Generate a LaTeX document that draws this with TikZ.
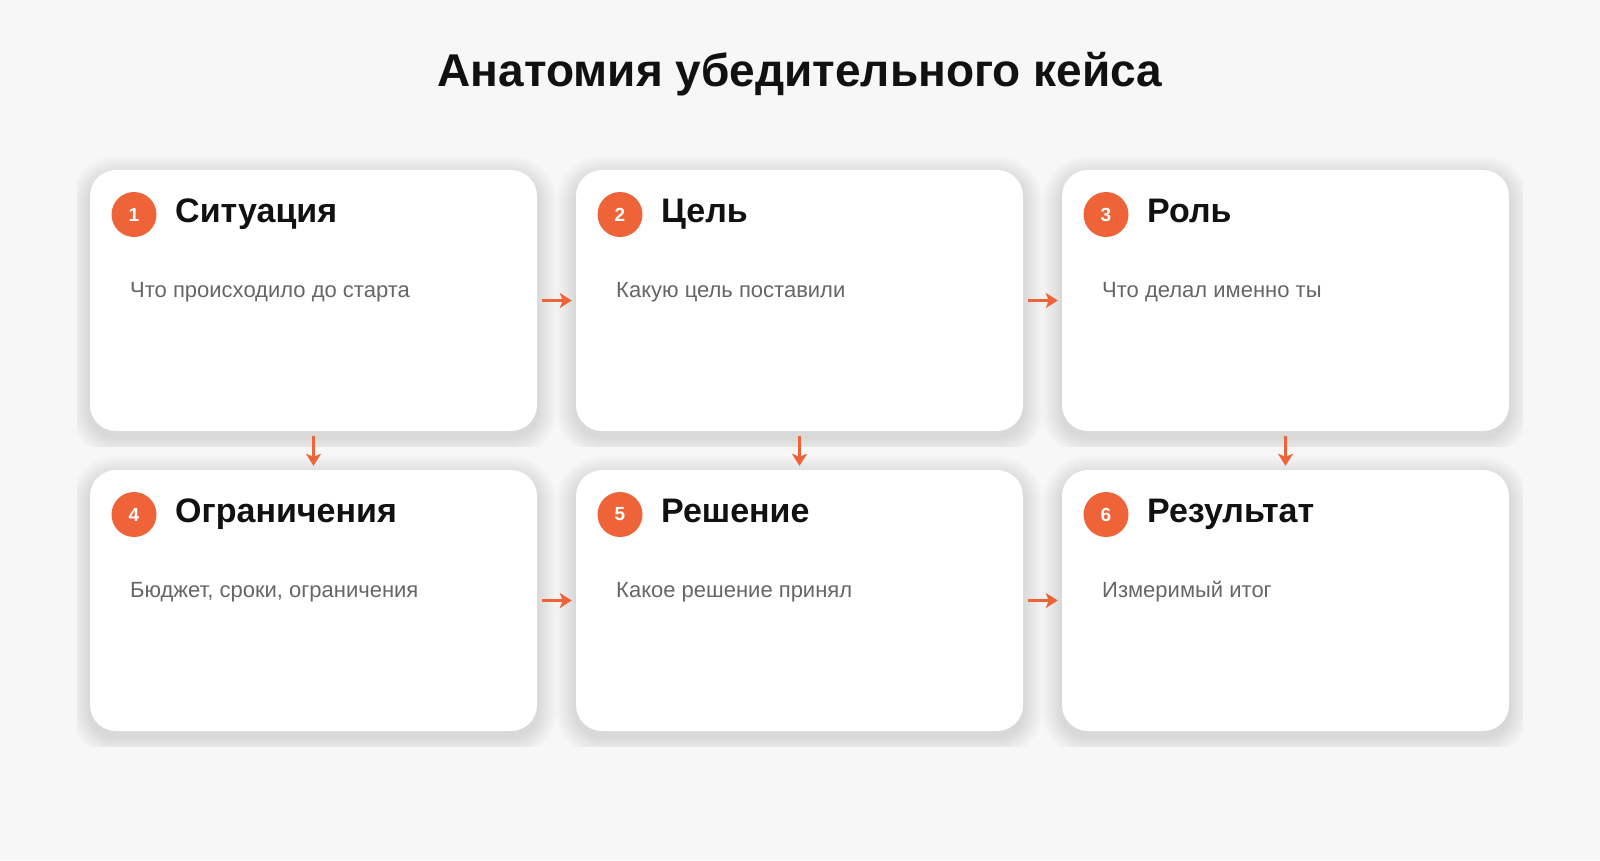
\documentclass[tikz,border=0pt]{standalone}
\usepackage{fontspec}
\setmainfont{Liberation Sans}
\usetikzlibrary{arrows.meta}
\definecolor{bg}{HTML}{F7F7F7}
\definecolor{accent}{HTML}{EE6338}
\definecolor{ink}{HTML}{111111}
\definecolor{muted}{HTML}{666666}
\tikzset{
  card/.style={fill=white, rounded corners=26pt, minimum width=447pt, minimum height=261pt, inner sep=0pt},
  badge/.style={circle, fill=accent, minimum size=45pt, inner sep=0pt, text=white, font=\fontsize{19}{19}\selectfont\bfseries},
  ctitle/.style={anchor=base west, inner sep=0pt, text=ink, font=\fontsize{34}{38}\selectfont\bfseries},
  cdesc/.style={anchor=base west, inner sep=0pt, text=muted, font=\fontsize{22}{26}\selectfont},
  heading/.style={anchor=base, inner sep=0pt, text=ink, font=\fontsize{46}{50}\selectfont\bfseries},
  flow/.style={draw=accent, line width=3pt, -{Stealth[length=12pt,width=15pt,inset=3pt]}},
}
\newcommand\cardshadow[2]{% x0, y0
  \foreach \i in {1,...,10}{
    \pgfmathsetmacro\rr{26+2*\i}
    \fill[black, opacity=0.011, rounded corners=\rr pt]
      (#1-2*\i, #2+6-2*\i) rectangle (#1+447+2*\i, #2+267+2*\i);
  }
}
\newcommand\shadowrow[1]{% y0
  \begin{scope}
    \clip (77,#1-24) rectangle (1523,#1+276);
    \cardshadow{90}{#1}
    \cardshadow{576}{#1}
    \cardshadow{1062}{#1}
  \end{scope}
}
\newcommand\mkcard[6]{% name, x0, y0, num, title, desc
  \node[card] (#1) at (#2+223.5, #3+130.5) {};
  \node[badge] (#1b) at (#2+44, #3+44.5) {#4};
  \node[ctitle] (#1t) at (#2+85, #3+52) {#5};
  \node[cdesc] (#1d) at (#2+40, #3+127) {#6};
}
\begin{document}
\begin{tikzpicture}[x=1pt, y=-1pt]
  \fill[bg] (0,0) rectangle (1600,860);
  \useasboundingbox (0,0) rectangle (1600,860);
  \node[heading] (title) at (800,86) {Анатомия убедительного кейса};
  \shadowrow{170}
  \shadowrow{470}
  \mkcard{c1}{90}{170}{1}{Ситуация}{Что происходило до старта}
  \mkcard{c2}{576}{170}{2}{Цель}{Какую цель поставили}
  \mkcard{c3}{1062}{170}{3}{Роль}{Что делал именно ты}
  \mkcard{c4}{90}{470}{4}{Ограничения}{Бюджет, сроки, ограничения}
  \mkcard{c5}{576}{470}{5}{Решение}{Какое решение принял}
  \mkcard{c6}{1062}{470}{6}{Результат}{Измеримый итог}
  \draw[flow] ([xshift=5pt]c1.east) -- ([xshift=-4pt]c2.west);
  \draw[flow] ([xshift=5pt]c2.east) -- ([xshift=-4pt]c3.west);
  \draw[flow] ([xshift=5pt]c4.east) -- ([xshift=-4pt]c5.west);
  \draw[flow] ([xshift=5pt]c5.east) -- ([xshift=-4pt]c6.west);
  \draw[flow] ([yshift=-5pt]c1.south) -- ([yshift=4pt]c4.north);
  \draw[flow] ([yshift=-5pt]c2.south) -- ([yshift=4pt]c5.north);
  \draw[flow] ([yshift=-5pt]c3.south) -- ([yshift=4pt]c6.north);
\end{tikzpicture}
\end{document}
